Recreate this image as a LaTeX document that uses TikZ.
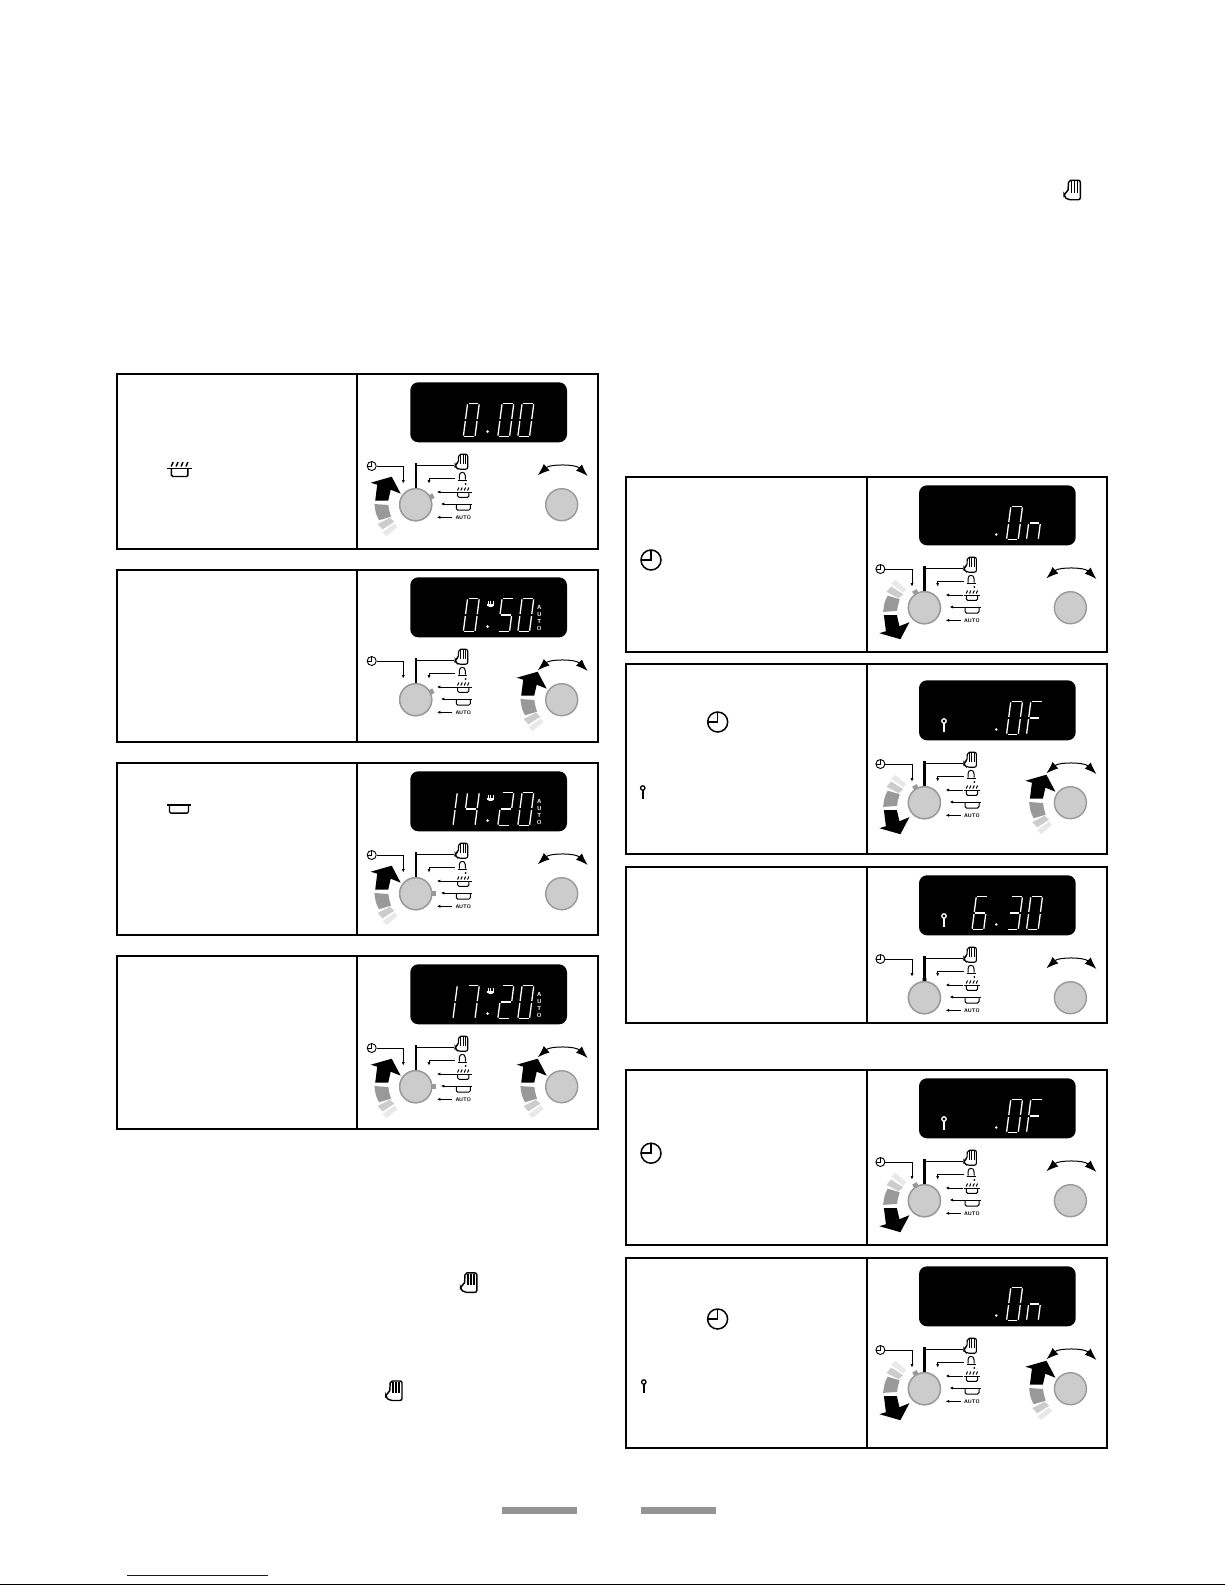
\documentclass[tikz,border=0pt]{standalone}
\usepackage{tikz}
\usetikzlibrary{positioning,arrows.meta,shapes.geometric}

\def\px{0.75pt}
\definecolor{knobfill}{HTML}{CCCCCC}
\definecolor{knobrim}{HTML}{999999}
\definecolor{sweepmid}{HTML}{999999}
\definecolor{sweeplow}{HTML}{CCCCCC}
\definecolor{sweepend}{HTML}{E8E8E8}
\definecolor{barcolor}{HTML}{949494}

\tikzset{
  frameline/.style={line width=2*\px},
  lcdpanel/.style={fill=black, rounded corners=8*\px, minimum width=156.7*\px, minimum height=60*\px, inner sep=0},
  knob/.style={circle, fill=knobfill, draw=knobrim, line width=1.4*\px, minimum size=32*\px, inner sep=0},
  dialmark/.style={fill=knobrim, minimum size=5*\px, inner sep=0},
  spot/.style={inner sep=0, minimum width=14*\px, minimum height=5*\px},
  clockface/.style={circle, draw, inner sep=0},
  leader/.style={line width=0.9*\px, -{Latex[length=2.6pt,width=2.4pt]}},
  spine/.style={line width=1.7*\px},
  swing/.style={line width=1*\px, {Latex[length=9pt,width=6.5pt]}-{Latex[length=9pt,width=6.5pt]}},
  seg/.style={white, line width=1.3*\px},
  autotext/.style={font=\fontsize{3.9}{4}\selectfont\sffamily\bfseries, inner sep=0},
  lcdauto/.style={white, align=center, font=\fontsize{4.4}{5.25}\selectfont\sffamily\bfseries, inner sep=0},
}

% seven segments, origin at bottom left of the digit
\newcommand{\sega}{\draw[seg] (1,-33.4) -- (10.7,-33.4);}
\newcommand{\segb}{\draw[seg] (11.7,-32.4) -- (11.7,-17.7);}
\newcommand{\segc}{\draw[seg] (11.7,-15.7) -- (11.7,-1);}
\newcommand{\segd}{\draw[seg] (1,0) -- (10.7,0);}
\newcommand{\sege}{\draw[seg] (0,-15.7) -- (0,-1);}
\newcommand{\segf}{\draw[seg] (0,-32.4) -- (0,-17.7);}
\newcommand{\segg}{\draw[seg] (1,-16.7) -- (10.7,-16.7);}
\newcommand{\lcddigit}[2]{\begin{scope}[shift={(#1,62.7)},xslant=0.129]
  \foreach \s in {#2} {\csname seg\s\endcsname}
\end{scope}}
\newcommand{\lcddot}{\fill[white] (131.3,57.5) circle (1.4);}

% icons
\newcommand{\handglyph}[2]{\begin{scope}[shift={(#1)},scale=#2,line width=1.1*#2*\px]
  \draw[rounded corners=1.5pt] (-3.5,7.5) -- (6,7.5) -- (6,-7.5) -- (-3,-7.5) -- (-3.5,1.5) -- (-6.5,2.5) -- (-6.5,5) -- cycle;
  \draw (-0.8,-7) -- (-0.8,2);
  \draw (1.5,-7) -- (1.5,2);
  \draw (3.8,-7) -- (3.8,2);
\end{scope}}
\newcommand{\grillglyph}[2]{\begin{scope}[shift={(#1)},scale=#2,line width=#2*\px]
  \draw (-8.4,0) -- (8.4,0);
  \draw[rounded corners=1pt] (-5.6,0) -- (-5.6,5.3) -- (5.6,5.3) -- (5.6,0);
  \foreach \u in {-5,-1.7,1.7,5} {\draw (\u-0.8,-1.5) -- (\u+0.6,-4.5);}
\end{scope}}
\newcommand{\potglyph}[2]{\begin{scope}[shift={(#1)},scale=#2,line width=#2*\px]
  \draw (-9,0) -- (9,0);
  \draw[rounded corners=1pt] (-7,0) -- (-7,6) -- (7,6) -- (7,0);
\end{scope}}
\newcommand{\keyglyph}[2]{\begin{scope}[shift={(#1)}]
  \draw[#2, line width=1.3*\px] (0,0) circle (2.2);
  \draw[#2, line width=1.7*\px] (0,2.2) -- (0,10.5);
\end{scope}}
\newcommand{\clockglyph}[4]{\node[clockface, line width=#4*\px, minimum size=2*#3*\px] (#1) at (#2) {};
  \draw[line width=#4*\px] (#1.center) ++(0,-#3) -- (#1.center) -- ++(-#3,0);}

% fat sweep arrow with its fading blocks, drawn round a knob
\newcommand{\sweepblocks}{
  \fill[black] (-45,-22) -- (-24,-28) -- (-15,-11) -- (-25,-15) -- (-27.5,-4) -- (-40.5,-4) -- (-38.5,-20) -- cycle;
  \fill[sweepmid] (-41.3,-0.7) -- (-27.3,0.3) .. controls (-27,4) .. (-24.7,12) -- (-36.7,15.5) .. controls (-40,9) .. cycle;
  \fill[sweeplow] (-38,19.3) -- (-25.7,13) -- (-21.3,17) -- (-33.3,24.7) -- cycle;
  \fill[sweepend] (-33.3,27.7) -- (-21.3,18.7) -- (-18,22) -- (-29,31.3) -- cycle;
}
\newcommand{\sweepup}[1]{\begin{scope}[shift={(#1)}]\sweepblocks\end{scope}}
\newcommand{\sweepdown}[1]{\begin{scope}[shift={(#1)},shift={(0,3.5)},yscale=-1]\sweepblocks\end{scope}}

% one control panel: height, offset of the controls from the top, dial angle
\newcommand{\panelbox}[4]{
  \draw[frameline] (-239.3,-#2) rectangle (241.7,#1-#2);
  \draw[frameline] (#4,-#2) -- (#4,#1-#2);
  \node[lcdpanel] (lcd) at (132.35,38.3) {};
  \node[knob] (knobL) at (59.4,130.7) {};
  \node[knob] (knobR) at (205.4,130.7) {};
  \path (knobL.center) ++(#3:17.5) node[dialmark, rotate=-#3] (dial) {};
  \node[knob] at (knobL.center) {};
  % selector legend
  \clockglyph{clk}{15.4,92}{4.5}{0.9}
  \coordinate (clkEnd) at (47,109.5);
  \draw[leader] (clk.east) -| (clkEnd);
  \node[spot] (hand) at (105.4,91.7) {};
  \handglyph{105.4,87.7}{1}
  \coordinate (spineTop) at (59.4,88.7);
  \draw[spine] (knobL.north) -- (spineTop);
  \draw[line width=1.3*\px] (hand.west) -- (hand.west -| spineTop);
  \node[spot] (bell) at (106,104.3) {};
  \coordinate (bellEnd) at (72.7,109.5);
  \draw[leader] (bell.west) -| (bellEnd);
  \begin{scope}[shift={(106,102.7)},line width=1*\px]
    \draw (-3,3) -- (-3,-1) .. controls (-3,-5.5) and (3,-5.5) .. (3,-1) -- (3,3);
    \draw (-4.5,3.3) -- (4.5,3.3);
  \end{scope}
  \fill (109.4,110) circle (1);
  \node[spot, minimum width=17*\px] (grill) at (107,118) {};
  \grillglyph{107,118}{1}
  \coordinate (grillEnd) at (80.7,118);
  \draw[leader] (grill.west) -- (grillEnd);
  \node[spot, minimum width=18*\px] (pot) at (107,130) {};
  \potglyph{107,130}{1}
  \coordinate (potEnd) at (84.7,130);
  \draw[leader] (pot.west) -- (potEnd);
  \node[autotext] (auto) at (107,143.3) {AUTO};
  \coordinate (autoEnd) at (80.7,143.3);
  \draw[leader] (auto.west) ++(-3,0) -- (autoEnd);
  % swing marks above the right knob
  \coordinate (swingL) at (181.4,101.3);
  \coordinate (swingR) at (231.4,102);
  \draw[swing] (swingL) .. controls (194,90) and (219,90) .. (swingR);
}
% dish symbol and the word in the display
\newcommand{\lcdmeal}{
  \foreach \u in {-2.3,0,2.3} {\draw[white, line width=0.8*\px] (134.3+\u,31.5) -- (134.3+\u,34.5);}
  \fill[white] (130.8,35.2) rectangle (137.8,36.6);
  \fill[white] (131.6,36.6) .. controls (132,38.6) and (136.6,38.6) .. (137,36.6) -- cycle;
  \node[lcdauto] (lcdword) at (183,49.3) {A\\U\\T\\O};
}

\begin{document}
\begin{tikzpicture}[x=\px,y=-\px]
\useasboundingbox (0,0) rectangle (1225,1585);

% left column
\begin{scope}[shift={(356.3,374)},name prefix=a-]
\panelbox{175}{0}{-27}{1}
\sweepup{knobL}
\lcddigit{107}{a,b,c,d,e,f}
\lcddot
\lcddigit{141.5}{a,b,c,d,e,f}
\lcddigit{161.5}{a,b,c,d,e,f}
\end{scope}
\begin{scope}[shift={(356.3,569)},name prefix=b-]
\panelbox{172}{-1}{-27}{1}
\sweepup{knobR}
\lcddigit{107}{a,b,c,d,e,f}
\lcddot
\lcdmeal
\lcddigit{141.5}{a,f,g,c,d}
\lcddigit{161.5}{a,b,c,d,e,f}
\end{scope}
\begin{scope}[shift={(356.3,763)},name prefix=c-]
\panelbox{172}{0}{0}{1}
\sweepup{knobL}
\lcddigit{85}{b,c}
\lcddigit{107}{f,g,b,c}
\lcddot
\lcdmeal
\lcddigit{141.5}{a,b,g,e,d}
\lcddigit{161.5}{a,b,c,d,e,f}
\end{scope}
\begin{scope}[shift={(356.3,956)},name prefix=d-]
\panelbox{173}{0}{0}{1}
\sweepup{knobL}
\sweepup{knobR}
\lcddigit{85}{b,c}
\lcddigit{107}{a,b,c}
\lcddot
\lcdmeal
\lcddigit{141.5}{a,b,g,e,d}
\lcddigit{161.5}{a,b,c,d,e,f}
\end{scope}

% right column
\begin{scope}[shift={(865,477)},name prefix=e-,spine/.style={line width=2.6*\px}]
\panelbox{175}{0}{-120}{2}
\sweepdown{knobL}
\lcddot
\lcddigit{141.5}{a,b,c,d,e,f}
\lcddigit{161.5}{e,g,c}
\end{scope}
\begin{scope}[shift={(865,672)},name prefix=f-,spine/.style={line width=2.6*\px}]
\panelbox{190}{8}{-120}{2}
\sweepdown{knobL}
\sweepup{knobR}
\keyglyph{79,49}{white}
\lcddot
\lcddigit{141.5}{a,b,c,d,e,f}
\lcddigit{161.5}{a,f,g,e}
\end{scope}
\begin{scope}[shift={(865,867)},name prefix=g-,spine/.style={line width=2.6*\px}]
\panelbox{156}{0}{-90}{2}
\keyglyph{79,49}{white}
\lcddigit{107}{a,f,g,e,c,d}
\lcddot
\lcddigit{141.5}{a,b,g,c,d}
\lcddigit{161.5}{a,b,c,d,e,f}
\end{scope}
\begin{scope}[shift={(865,1070)},name prefix=h-,spine/.style={line width=2.6*\px}]
\panelbox{175}{0}{-120}{2}
\sweepdown{knobL}
\keyglyph{79,49}{white}
\lcddot
\lcddigit{141.5}{a,b,c,d,e,f}
\lcddigit{161.5}{a,f,g,e}
\end{scope}
\begin{scope}[shift={(865,1258)},name prefix=i-,spine/.style={line width=2.6*\px}]
\panelbox{190}{0}{-120}{2}
\sweepdown{knobL}
\sweepup{knobR}
\lcddot
\lcddigit{141.5}{a,b,c,d,e,f}
\lcddigit{161.5}{e,g,c}
\end{scope}

% symbols standing alone
\handglyph{1072.5,190}{1.3}
\handglyph{469,1282.6}{1.3}
\handglyph{394.2,1390.7}{1.3}
\grillglyph{179.7,468.7}{1.47}
\potglyph{179,805}{1.35}
\clockglyph{clkA}{651,560}{10}{1.5}
\clockglyph{clkB}{717.7,722}{10}{1.5}
\clockglyph{clkC}{651,1153.2}{10}{1.5}
\clockglyph{clkD}{717.6,1319}{10}{1.5}
\keyglyph{642.7,788}{black}
\keyglyph{643.8,1382}{black}

% foot of the page
\fill[barcolor] (502.3,1507) rectangle (577.3,1514);
\fill[barcolor] (640.6,1507) rectangle (715.6,1514);
\fill[blue!85!black] (127,1574.5) rectangle (268,1576);
\fill[black] (0,1583.5) rectangle (1225,1585);
\end{tikzpicture}
\end{document}
